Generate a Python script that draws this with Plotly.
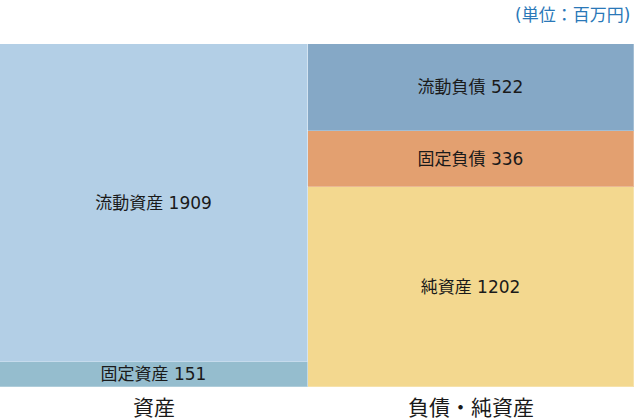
import plotly.graph_objects as go

categories = ["資産", "負債・純資産"]
segment_names = ["固定資産", "流動資産", "純資産", "固定負債", "流動負債"]
segment_cats = ["資産", "資産", "負債・純資産", "負債・純資産", "負債・純資産"]
segment_values = [151, 1909, 1202, 336, 522]
segment_colors = ["#95bdce", "#b3cfe6", "#f3d88f", "#e3a070", "#85a8c6"]
bar_widths = {"資産": 0.9716, "負債・純資産": 1.0284}
unit_label = "(単位：百万円)"

FONT = "DejaVu Sans, Noto Sans CJK JP, sans-serif"

fig = go.Figure()
for name, cat, val, col in zip(segment_names, segment_cats, segment_values, segment_colors):
    fig.add_trace(go.Bar(
        x=[cat], y=[val], name=name,
        width=[bar_widths[cat]],
        marker=dict(color=col, line=dict(width=1, color="rgba(255,255,255,0.25)")),
        text=[f"{name} {val}"],
        textposition="inside",
        insidetextanchor="middle",
        textangle=0,
        textfont=dict(family=FONT, size=17, color="#1a1a1a"),
        hoverinfo="skip",
    ))

left = -bar_widths["資産"] / 2
right = 1 + bar_widths["負債・純資産"] / 2

fig.update_layout(
    barmode="stack",
    bargap=0,
    width=634, height=420,
    margin=dict(l=0, r=0, t=44, b=33, pad=0),
    paper_bgcolor="white", plot_bgcolor="white",
    showlegend=False,
    uniformtext=dict(minsize=17, mode="show"),
    xaxis=dict(
        type="category", categoryorder="array", categoryarray=categories,
        range=[left, right],
        tickfont=dict(family=FONT, size=21, color="#1a1a1a"),
        ticklabelstandoff=6,
        showgrid=False, zeroline=False, showline=False, ticks="",
    ),
    yaxis=dict(
        range=[0, sum(segment_values[:2])],
        visible=False, showgrid=False, zeroline=False,
    ),
    annotations=[dict(
        text=unit_label, xref="paper", yref="paper", x=1, y=1,
        xanchor="right", yanchor="middle", yshift=29, xshift=-2, showarrow=False,
        font=dict(family=FONT, size=17, color="#2a78b8"),
    )],
)

fig.write_html(
    "out.html",
    config={"displayModeBar": False},
    post_script="document.body.style.margin='0';document.body.style.overflow='hidden';",
)
